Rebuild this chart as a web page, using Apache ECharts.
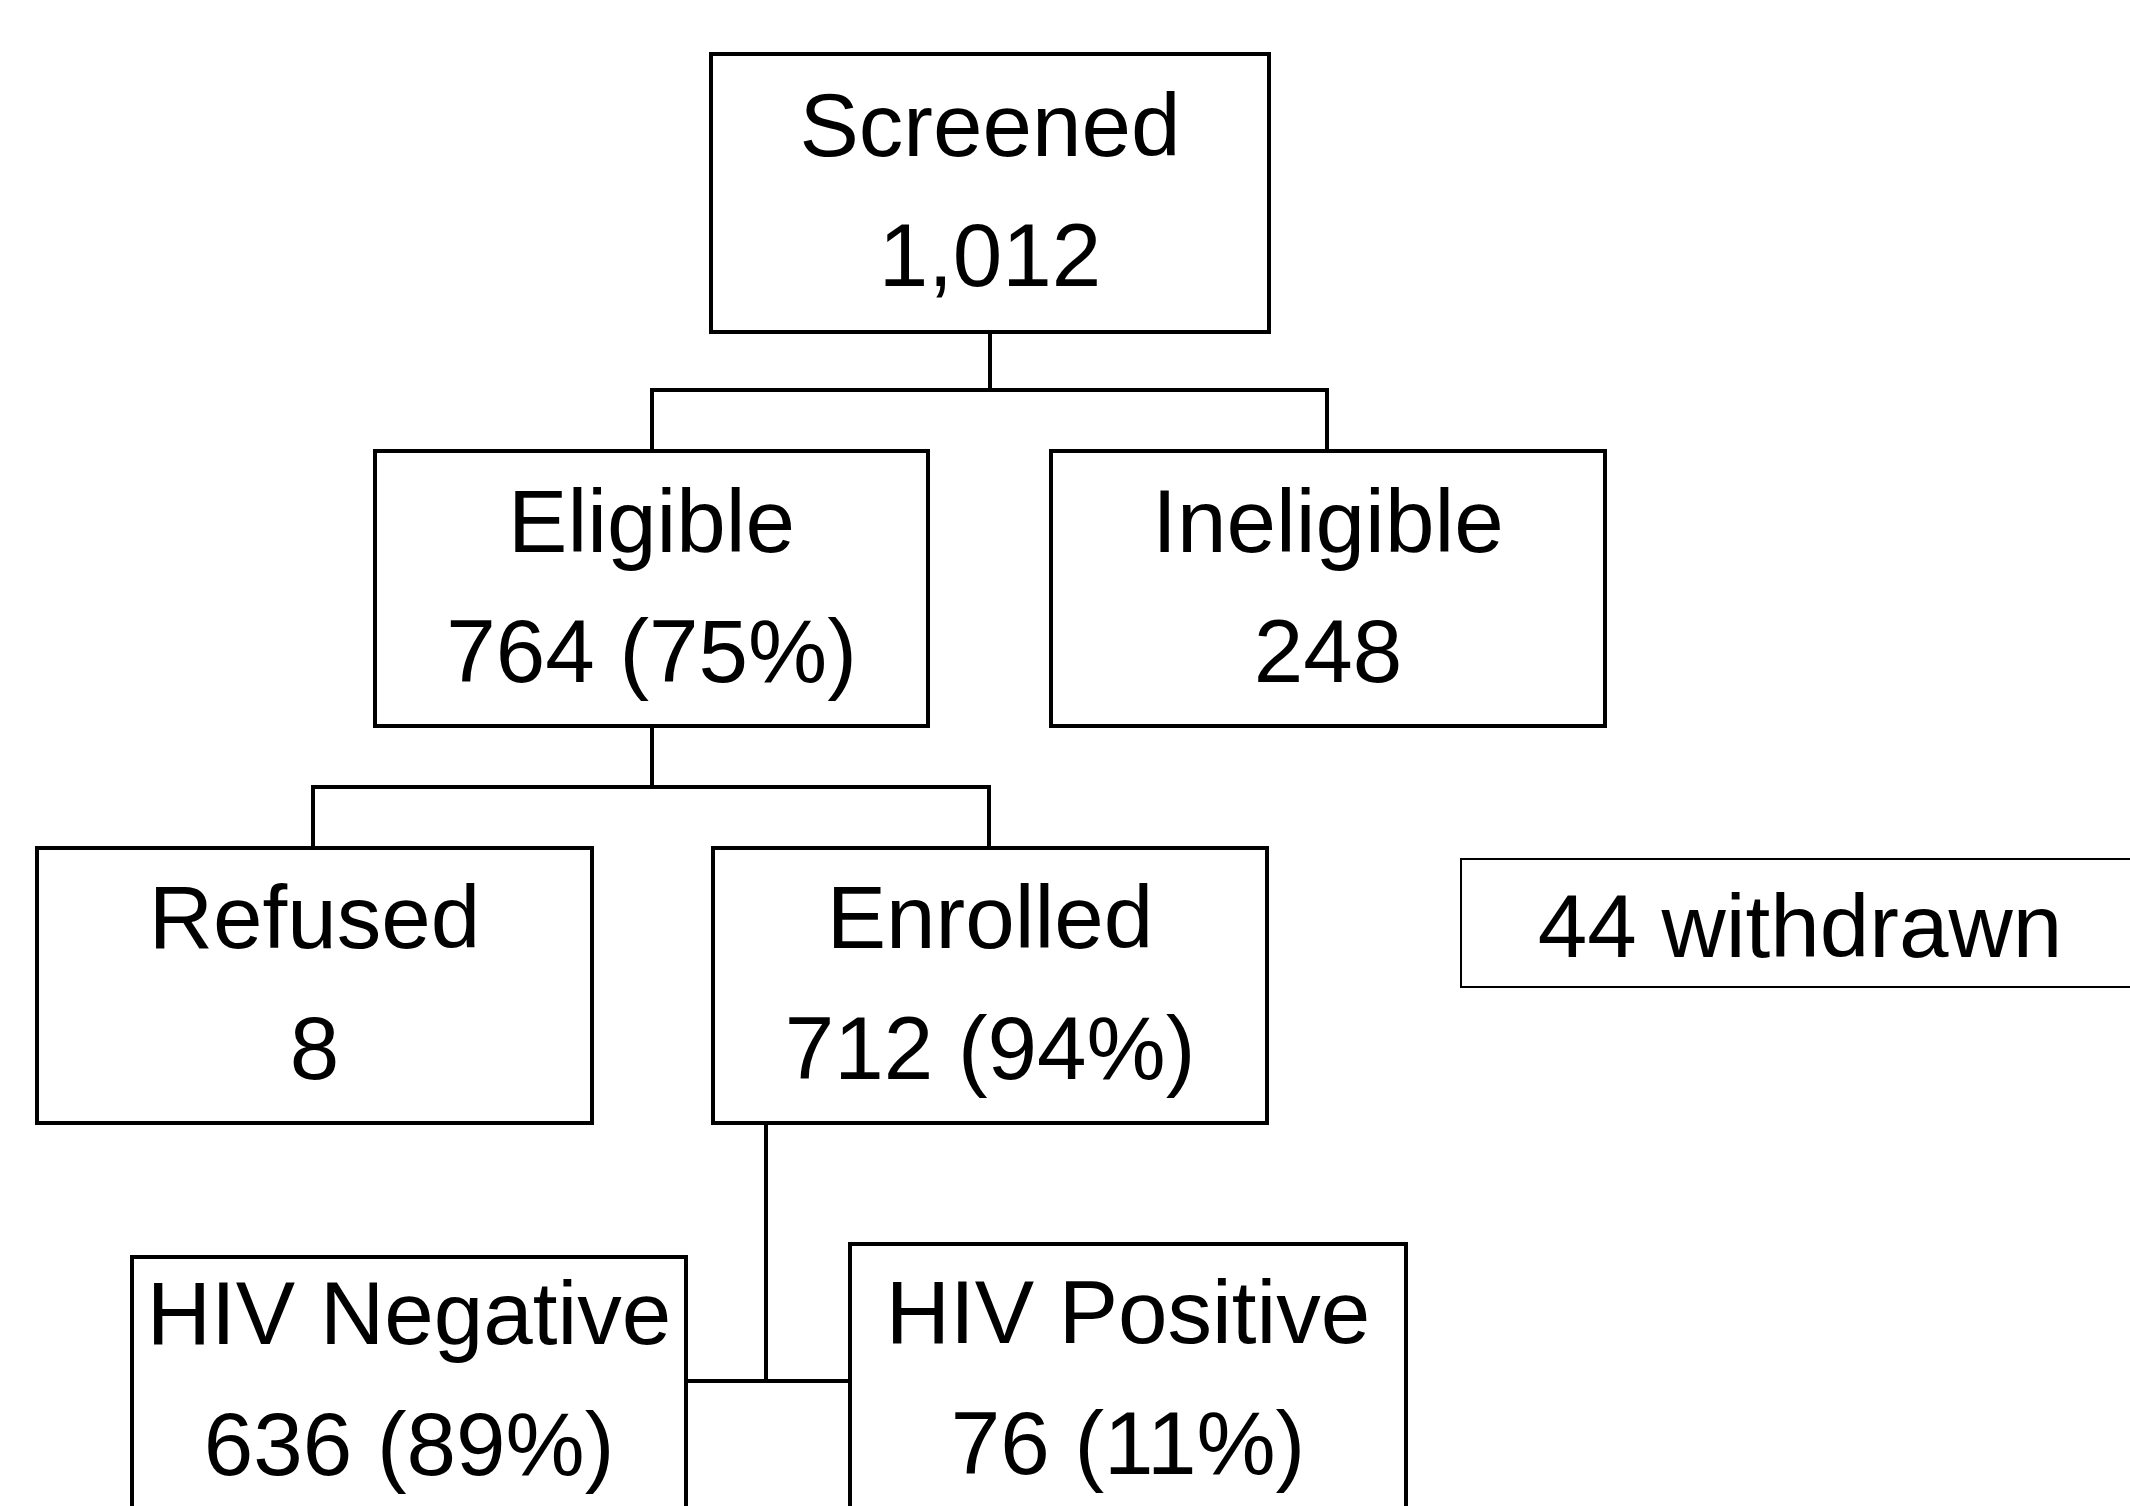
<!DOCTYPE html>
<html lang="en" style="height: 100%">

<head>
    <meta charset="UTF-8">
    <title>Flow</title>
    <script type="text/javascript" src="https://cdn.jsdelivr.net/npm/echarts@6/dist/echarts.min.js"></script>
</head>

<body style="height: 100%; margin: 0; background: #fff">
    <div id="container" style="width: 2130px; height: 1506px"></div>
    <script type="text/javascript">
    // node texts
    var stages = ['Screened', 'Eligible', 'Ineligible', 'Refused', 'Enrolled', 'HIV Negative', 'HIV Positive', ''];
    var counts = ['1,012', '764 (75%)', '248', '8', '712 (94%)', '636 (89%)', '76 (11%)', '44 withdrawn'];

    // box layout in page units: x0, y0, x1, y1, first text line y, second text line y
    var boxes = [
        [711, 54, 1269, 332, 131, 261],
        [375, 451, 928, 726, 527, 657],
        [1051, 451, 1605, 726, 527, 657],
        [37, 848, 592, 1123, 923, 1054],
        [713, 848, 1267, 1123, 923, 1054],
        [132, 1257, 686, 1560, 1319, 1450],
        [850, 1244, 1406, 1560, 1318, 1449],
        [1461, 859, 2150, 987, 0, 932]
    ];

    // elbow connectors between boxes
    var links = [
        [[990, 332], [990, 390]],
        [[652, 451], [652, 390], [1327, 390], [1327, 451]],
        [[652, 726], [652, 787]],
        [[313, 848], [313, 787], [989, 787], [989, 848]],
        [[766, 1123], [766, 1381]],
        [[686, 1381], [850, 1381]]
    ];

    var font = "89px 'Liberation Sans', Arial, sans-serif";

    myChart = echarts.init(document.getElementById('container'));

    option = {
        backgroundColor: '#fff',
        animation: false,
        grid: { left: 0, right: 0, top: 0, bottom: 0 },
        xAxis: { type: 'value', min: 0, max: 2130, show: false },
        yAxis: { type: 'value', min: 0, max: 1506, inverse: true, show: false },
        series: [{
            type: 'lines',
            coordinateSystem: 'cartesian2d',
            polyline: true,
            silent: true,
            lineStyle: { color: '#000', width: 4, opacity: 1 },
            data: links.map(function(pts) {
                return { coords: pts };
            })
        }, {
            type: 'custom',
            silent: true,
            data: boxes.map(function(b, i) {
                return [b[0], b[1], b[2], b[3], b[4], b[5], i];
            }),
            renderItem: function(params, api) {
                var i = api.value(6);
                var p0 = api.coord([api.value(0), api.value(1)]);
                var p1 = api.coord([api.value(2), api.value(3)]);
                var cx = (p0[0] + p1[0]) / 2;
                var thin = stages[i] === '';
                if (thin) cx = api.coord([1800, 0])[0];
                var children = [{
                    type: 'rect',
                    shape: { x: p0[0], y: p0[1], width: p1[0] - p0[0], height: p1[1] - p0[1] },
                    style: { fill: '#fff', stroke: '#000', lineWidth: thin ? 2 : 4 }
                }];
                if (stages[i]) {
                    children.push({
                        type: 'text',
                        x: cx,
                        y: api.coord([0, api.value(4)])[1],
                        style: { text: stages[i], font: font, fill: '#000', align: 'center', verticalAlign: 'middle' }
                    });
                }
                children.push({
                    type: 'text',
                    x: cx,
                    y: api.coord([0, api.value(5)])[1],
                    style: { text: counts[i], font: font, fill: '#000', align: 'center', verticalAlign: 'middle' }
                });
                return { type: 'group', children: children };
            }
        }]
    };

    myChart.setOption(option);
    </script>
</body>

</html>
